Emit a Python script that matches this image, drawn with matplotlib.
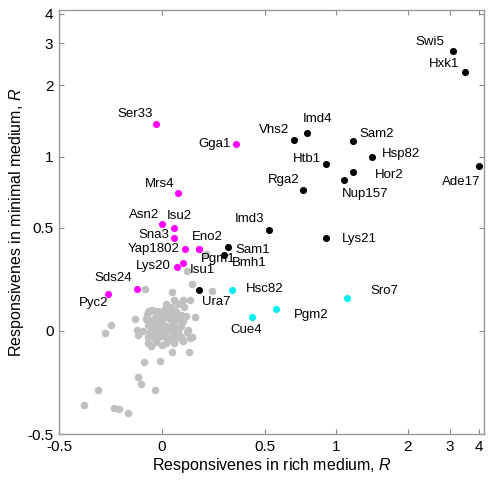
import numpy as np
import matplotlib
matplotlib.use("Agg")
import matplotlib.pyplot as plt

plt.rcParams['font.family'] = ['Liberation Sans', 'DejaVu Sans']
plt.rcParams['mathtext.fontset'] = 'custom'
plt.rcParams['mathtext.it'] = 'Liberation Sans:italic'
plt.rcParams['mathtext.rm'] = 'Liberation Sans'

# =========================
# Données (R riche, R minimal)
# =========================

black_names = ["Swi5", "Hxk1", "Sam2", "Hsp82", "Hor2", "Nup157", "Ade17", "Imd4",
               "Vhs2", "Htb1", "Rga2", "Imd3", "Lys21", "Sam1", "Bmh1", "Ura7"]
black_x = [3.09, 3.49, 1.18, 1.41, 1.18, 1.08, 3.98, 0.75,
           0.66, 0.90, 0.72, 0.52, 0.90, 0.32, 0.30, 0.18]
black_y = [2.79, 2.28, 1.16, 1.00, 0.86, 0.80, 0.91, 1.26,
           1.17, 0.93, 0.72, 0.49, 0.45, 0.41, 0.37, 0.20]

magenta_names = ["Ser33", "Gga1", "Mrs4", "Asn2", "Isu2", "Sna3", "Yap1802",
                 "Eno2", "Pgm1", "Lys20", "Isu1", "Sds24", "Pyc2"]
magenta_x = [-0.03, 0.36, 0.08, 0.00, 0.06, 0.057, 0.11,
             0.18, 0.18, 0.074, 0.10, -0.12, -0.26]
magenta_y = [1.37, 1.13, 0.70, 0.52, 0.50, 0.45, 0.40,
             0.40, 0.40, 0.31, 0.33, 0.205, 0.18]

cyan_names = ["Hsc82", "Pgm2", "Cue4", "Sro7"]
cyan_x = [0.34, 0.555, 0.435, 1.11]
cyan_y = [0.20, 0.105, 0.066, 0.16]

gray_x = [-0.083, 0.123, 0.148, 0.244, 0.214, 0.050, 0.060, 0.102, 0.136, 0.018,
          0.076, 0.044, 0.108, -0.063, -0.026, 0.063, -0.130, -0.074, 0.115, 0.158,
          -0.250, -0.279, -0.123, -0.115, 0.123, 0.147, 0.099, 0.044, -0.067, -0.053,
          -0.001, 0.047, 0.131, -0.087, -0.010, -0.117, -0.104, -0.033, -0.310, -0.381,
          -0.232, -0.208, -0.165, 0.103, 0.136, 0.128, 0.096,
          -0.07, -0.05, -0.03, -0.01, 0.01, 0.03, 0.05, 0.07, 0.09,
          -0.08, -0.06, -0.04, -0.02, 0.00, 0.02, 0.04, 0.06, 0.08, 0.10,
          -0.07, -0.05, -0.03, -0.01, 0.01, 0.03, 0.05, 0.07, 0.09,
          -0.09, -0.06, -0.04, -0.02, 0.00, 0.02, 0.04, 0.06, 0.08,
          -0.07, -0.04, -0.015, 0.01, 0.03, 0.065, 0.085,
          -0.03, 0.02, 0.06]
gray_y = [0.205, 0.290, 0.227, 0.196, 0.372, 0.189, 0.149, 0.150, 0.150, 0.131,
          0.131, 0.118, 0.118, 0.099, 0.099, 0.099, 0.057, 0.079, 0.071, 0.067,
          0.031, -0.011, 0.006, -0.018, -0.006, -0.031, -0.042, -0.034, -0.058, -0.071,
          -0.069, -0.100, -0.102, -0.149, -0.148, -0.222, -0.257, -0.287, -0.287, -0.361,
          -0.374, -0.379, -0.398, -0.047, -0.034, 0.005, -0.035,
          0.09, 0.10, 0.08, 0.09, 0.10, 0.09, 0.08, 0.09, 0.08,
          0.06, 0.05, 0.06, 0.05, 0.06, 0.07, 0.06, 0.05, 0.06, 0.05,
          0.03, 0.02, 0.03, 0.02, 0.03, 0.02, 0.03, 0.02, 0.025,
          0.00, -0.005, 0.00, -0.01, 0.00, -0.005, 0.005, -0.01, 0.00,
          -0.03, -0.035, -0.03, -0.025, -0.04, -0.035, -0.025,
          -0.055, -0.06, -0.06]

ticks = [-0.5, 0, 0.5, 1, 2, 3, 4]
tick_labels = ["-0.5", "0", "0.5", "1", "2", "3", "4"]

# décalage des étiquettes (pixels) et alignement
label_pos = {
    "Swi5": (-8, 9, "right"), "Hxk1": (-6, 8, "right"), "Sam2": (6, 7, "left"),
    "Hsp82": (10, 3, "left"), "Hor2": (21, -3, "left"), "Nup157": (-2, -14, "left"),
    "Ade17": (2, -16, "right"), "Imd4": (-4, 14, "left"), "Vhs2": (-4, 10, "right"),
    "Htb1": (-5, 5, "right"), "Rga2": (-3, 10, "right"), "Imd3": (-5, 11, "right"),
    "Lys21": (16, -1, "left"), "Sam1": (7, -3, "left"), "Bmh1": (8, -8, "left"),
    "Ura7": (3, -12, "left"),
    "Ser33": (-3, 10, "right"), "Gga1": (-5, 0, "right"), "Mrs4": (-4, 9, "right"),
    "Asn2": (-3, 9, "right"), "Isu2": (-8, 12, "left"), "Sna3": (-4, 3, "right"),
    "Yap1802": (-5, 0, "right"), "Eno2": (-7, 12, "left"), "Pgm1": (2, -10, "left"),
    "Lys20": (-7, 1, "right"), "Isu1": (7, -7, "left"), "Sds24": (-5, 11, "right"),
    "Pyc2": (0, -9, "right"),
    "Hsc82": (14, 1, "left"), "Pgm2": (18, -6, "left"), "Cue4": (-5, -13, "center"),
    "Sro7": (23, 7, "left"),
}


# échelle : linéaire sur |R| <= 0.5, logarithmique au-delà
def fwd(v):
    v = np.asarray(v, dtype=float)
    a = np.abs(v)
    return np.where(a <= 0.5, v, np.sign(v) * 0.5 * (1 + np.log(np.maximum(a, 1e-12) / 0.5)))


def inv(u):
    u = np.asarray(u, dtype=float)
    a = np.abs(u)
    return np.where(a <= 0.5, u, np.sign(u) * 0.5 * np.exp(a / 0.5 - 1))


fig = plt.figure(figsize=(4.89, 4.8), dpi=100)
ax = fig.add_axes([59 / 489, 46 / 480, 425 / 489, 424 / 480])
ax.set_xscale("function", functions=(fwd, inv))
ax.set_yscale("function", functions=(fwd, inv))
ax.set_xlim(-0.5, 4.19)
ax.set_ylim(-0.5, 4.15)

ax.scatter(gray_x, gray_y, s=30, color="#c0c0c0", linewidths=0, zorder=2)
ax.scatter(black_x, black_y, s=26, color="black", linewidths=0, zorder=3)
ax.scatter(magenta_x, magenta_y, s=26, color="#ff00ff", linewidths=0, zorder=3)
ax.scatter(cyan_x, cyan_y, s=26, color="#00eeee", linewidths=0, zorder=3)

for names, xs, ys in [(black_names, black_x, black_y),
                      (magenta_names, magenta_x, magenta_y),
                      (cyan_names, cyan_x, cyan_y)]:
    for n, x, y in zip(names, xs, ys):
        dx, dy, ha = label_pos[n]
        ax.annotate(n, (x, y), xytext=(dx, dy), textcoords="offset pixels",
                    ha=ha, va="center", fontsize=9.5, zorder=4)

ax.set_xticks(ticks)
ax.set_xticklabels(tick_labels)
ax.set_yticks(ticks)
ax.set_yticklabels(tick_labels)
ax.minorticks_off()
ax.tick_params(direction="in", length=3.5, width=0.8, color="#888888",
               labelsize=11, top=True, right=True, pad=4)
for s in ax.spines.values():
    s.set_color("#999999")
    s.set_linewidth(1.0)

ax.set_xlabel("Responsivenes in rich medium, $\\it{R}$", fontsize=11.5, labelpad=2)
ax.set_ylabel("Responsivenes in minimal medium, $\\it{R}$", fontsize=11.5, labelpad=1)

fig.savefig("out.png", dpi=100)
